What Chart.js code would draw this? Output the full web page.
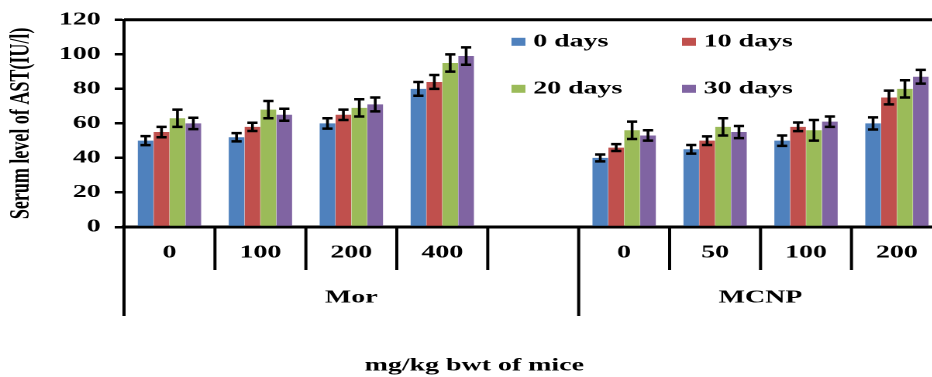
<!DOCTYPE html>
<html>
<head>
<meta charset="utf-8">
<script src="https://cdn.jsdelivr.net/npm/chart.js@4.4.1/dist/chart.umd.min.js"></script>
<style>
  html, body { margin: 0; padding: 0; background: #fff; overflow: hidden; }
  /* the reference is stretched sideways, so the chart is drawn narrow and widened */
  #wrap { width: 608px; height: 377px; transform: scaleX(1.55); transform-origin: 0 0; }
</style>
</head>
<body>
<div id="wrap"><canvas id="AstBox"></canvas></div>
<script>
const doseLabels = ['0', '100', '200', '400', '', '0', '50', '100', '200'];
const groupLabels = ['Mor', 'MCNP'];
const groupStart = [0, 5];
const seriesLabels = ['0 days', '10 days', '20 days', '30 days'];
const xTitle = 'mg/kg bwt of mice';
const yTitle = 'Serum level of AST(IU/l)';

const day0 = [50, 52, 60, 80, null, 40, 45, 50, 60];
const day10 = [55, 58, 65, 84, null, 46, 50, 58, 75];
const day20 = [63, 68, 69, 95, null, 56, 58, 56, 80];
const day30 = [60, 65, 71, 99, null, 53, 55, 61, 87];

const err0 = [2.6, 2.4, 3, 4, null, 2, 2.5, 3, 3.5];
const err10 = [3, 2.4, 3, 4, null, 2, 2.5, 2.5, 4];
const err20 = [5, 5, 5, 5, null, 5, 5, 6, 5];
const err30 = [3.3, 3.5, 4, 5, null, 3, 3.5, 3, 4];

const yTicks = [0, 20, 40, 60, 80, 100, 120];

const serif = '"Liberation Serif", "Times New Roman", serif';
const colors = ['#4F81BD', '#C0504D', '#9BBB59', '#8064A2'];
const seriesValues = [day0, day10, day20, day30];
const seriesErrors = [err0, err10, err20, err30];

// error bars on every bar
const errorBars = {
    id: 'errorBars',
    afterDatasetsDraw(chart) {
        const ctx = chart.ctx;
        const y = chart.scales.y;
        ctx.save();
        ctx.strokeStyle = '#000';
        chart.data.datasets.forEach((ds, i) => {
            const meta = chart.getDatasetMeta(i);
            meta.data.forEach((bar, j) => {
                const v = ds.data[j];
                const e = seriesErrors[i][j];
                if (v == null || e == null) return;
                const top = y.getPixelForValue(v + e);
                const bot = y.getPixelForValue(v - e);
                ctx.lineWidth = 1.8;
                ctx.beginPath();
                ctx.moveTo(bar.x, top);
                ctx.lineTo(bar.x, bot);
                ctx.stroke();
                ctx.lineWidth = 2.5;
                ctx.beginPath();
                ctx.moveTo(bar.x - 3.3, top);
                ctx.lineTo(bar.x + 3.3, top);
                ctx.moveTo(bar.x - 3.3, bot);
                ctx.lineTo(bar.x + 3.3, bot);
                ctx.stroke();
            });
        });
        ctx.restore();
    }
};

// frame line, category dividers, group labels, x title and legend
const extras = {
    id: 'extras',
    afterDraw(chart) {
        const {ctx, chartArea} = chart;
        const x = chart.scales.x;
        const step = x.getPixelForValue(1) - x.getPixelForValue(0);
        const edge = i => x.getPixelForValue(i) - step / 2;
        const base = chartArea.bottom;
        ctx.save();
        ctx.strokeStyle = '#000';
        ctx.lineWidth = 3;
        ctx.beginPath();
        ctx.moveTo(chartArea.left, chartArea.top);
        ctx.lineTo(chartArea.right, chartArea.top);
        ctx.stroke();

        ctx.lineWidth = 2;
        for (let i = 0; i < doseLabels.length; i++) {
            const long = groupStart.includes(i);
            ctx.beginPath();
            ctx.moveTo(edge(i), base);
            ctx.lineTo(edge(i), base + (long ? 89 : 43));
            ctx.stroke();
        }

        ctx.fillStyle = '#000';
        ctx.font = 'bold 18px ' + serif;
        ctx.textAlign = 'center';
        ctx.textBaseline = 'middle';
        groupLabels.forEach((g, k) => {
            const a = edge(groupStart[k]);
            const b = k + 1 < groupStart.length ? edge(groupStart[k + 1]) : chartArea.right;
            ctx.fillText(g, (a + b) / 2, base + 71);
        });

        ctx.fillText(xTitle, chartArea.left + 226, chart.height - 11);

        ctx.textAlign = 'left';
        const cols = [250, 360], rows = [22, 69];
        chart.data.datasets.forEach((ds, i) => {
            const lx = chartArea.left + cols[i % 2];
            const ly = chartArea.top + rows[Math.floor(i / 2)];
            ctx.fillStyle = ds.backgroundColor;
            ctx.fillRect(lx, ly - 4, 9, 8);
            ctx.fillStyle = '#000';
            ctx.fillText(ds.label, lx + 14, ly);
        });
        ctx.restore();
    }
};

const AstData = {
    labels: doseLabels,
    datasets: seriesLabels.map((label, i) => ({
        label: label,
        data: seriesValues[i],
        backgroundColor: colors[i],
        borderWidth: 0,
        categoryPercentage: 0.7,
        barPercentage: 0.98
    }))
};

const AstConfig = {
    type: 'bar',
    data: AstData,
    options: {
        responsive: true,
        maintainAspectRatio: false,
        animation: false,
        devicePixelRatio: 2,
        layout: { padding: { top: 18, left: 0, right: 0, bottom: 0 } },
        plugins: {
            legend: { display: false },
            tooltip: { enabled: false }
        },
        scales: {
            x: {
                grid: { display: false, drawTicks: false },
                border: { display: true, color: '#000', width: 3 },
                ticks: {
                    color: '#000',
                    font: { family: serif, size: 18, weight: 'bold' },
                    padding: 15,
                    maxRotation: 0,
                    autoSkip: false
                },
                afterFit: s => { s.height = 150; }
            },
            y: {
                min: 0,
                max: 120,
                afterBuildTicks: s => { s.ticks = yTicks.map(v => ({ value: v })); },
                ticks: {
                    color: '#000',
                    font: { family: serif, size: 18, weight: 'bold' },
                    padding: 9
                },
                grid: { drawOnChartArea: false, drawTicks: true, tickLength: 6, color: '#000', lineWidth: 2.5 },
                border: { color: '#000', width: 2 },
                title: {
                    display: true,
                    text: yTitle,
                    color: '#000',
                    font: { family: serif, size: 18, weight: 'bold' },
                    padding: { top: 3, bottom: 0 }
                },
                afterFit: s => { s.width = 80; }
            }
        }
    },
    plugins: [errorBars, extras]
};

window.onload = function() {
    const ctx = document.getElementById('AstBox').getContext('2d');
    new Chart(ctx, AstConfig);
};
</script>
</body>
</html>
